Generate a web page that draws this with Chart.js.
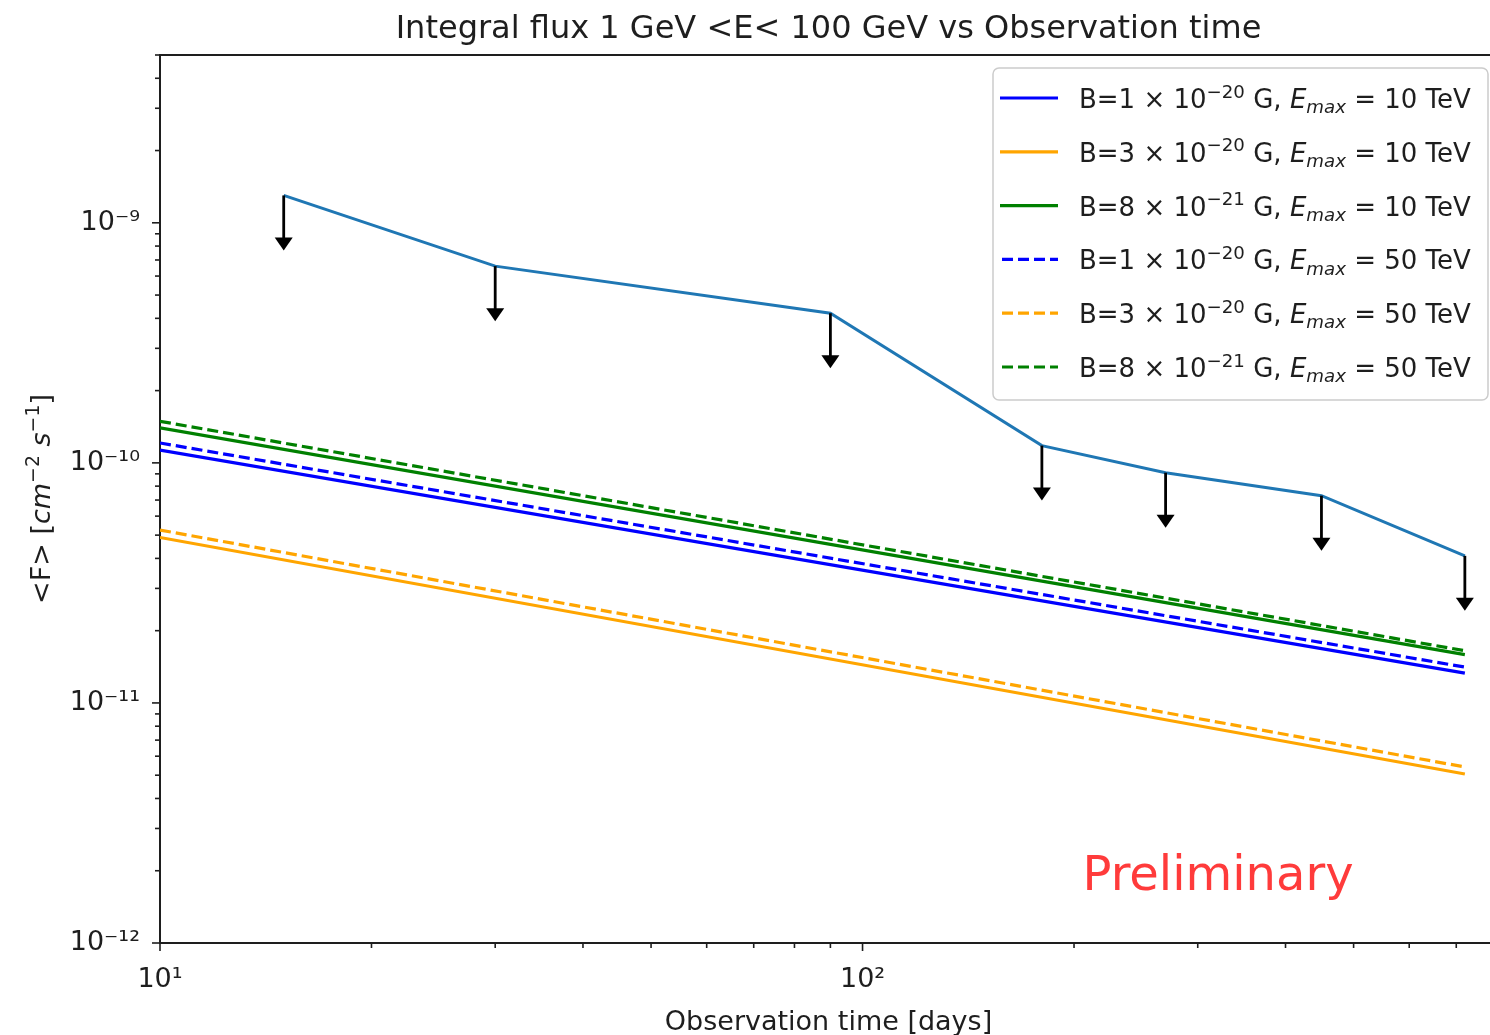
<!DOCTYPE html>
<html lang="en">
<head>
<meta charset="UTF-8">
<title>Integral flux vs observation time</title>
<script src="https://cdn.jsdelivr.net/npm/chart.js@4.4.1/dist/chart.umd.min.js"></script>
<style>
  html, body { margin: 0; padding: 0; background: #fff; overflow: hidden; }
  canvas { display: block; }
</style>
</head>
<body>
<canvas id="flux" width="1497" height="1035"></canvas>
<script>
// observation windows (days) and flux upper limits
var days = [15, 30, 90, 180, 270, 450, 720];
var fluxUL = [1.3e-9, 6.6e-10, 4.2e-10, 1.18e-10, 9.1e-11, 7.3e-11, 4.1e-11];

// model curves, read at both ends (10 and 720 days)
var modelDays = [10, 720];
var b1e20_10 = [1.13e-10, 1.33e-11];
var b3e20_10 = [4.89e-11, 5.06e-12];
var b8e21_10 = [1.40e-10, 1.59e-11];
var b1e20_50 = [1.21e-10, 1.41e-11];
var b3e20_50 = [5.25e-11, 5.41e-12];
var b8e21_50 = [1.49e-10, 1.65e-11];

var bField = ['1', '3', '8', '1', '3', '8'];
var bExp = ['−20', '−20', '−21', '−20', '−20', '−21'];
var eMax = ['10', '10', '10', '50', '50', '50'];
var modelColors = ['#0000ff', '#ffa500', '#008000', '#0000ff', '#ffa500', '#008000'];

var xTicks = [10, 100];
var yTicks = [1e-12, 1e-11, 1e-10, 1e-9];

var FONT = '"DejaVu Sans", sans-serif';
var INK = '#1e1e1e';

function pts(xs, ys) {
  return xs.map(function (x, i) { return { x: x, y: ys[i] }; });
}

function sup(s) {
  var m = { '-': '⁻', '0': '⁰', '1': '¹', '2': '²', '3': '³', '4': '⁴', '5': '⁵', '6': '⁶', '7': '⁷', '8': '⁸', '9': '⁹' };
  return s.split('').map(function (c) { return m[c]; }).join('');
}
function powLabel(v) {
  return '10' + sup(String(Math.round(Math.log10(v))));
}

// draw text made of pieces (normal / italic / super / sub)
function drawRich(ctx, parts, x, y, size, measureOnly) {
  var x0 = x;
  parts.forEach(function (p) {
    var s = (p.sup || p.sub) ? size * 0.7 : size;
    ctx.font = (p.it ? 'italic ' : '') + s + 'px ' + FONT;
    var dy = p.sup ? -size * 0.4 : (p.sub ? size * 0.2 : 0);
    if (!measureOnly) ctx.fillText(p.t, x, y + dy);
    x += ctx.measureText(p.t).width;
  });
  return x - x0;
}

var modelSets = [b1e20_10, b3e20_10, b8e21_10, b1e20_50, b3e20_50, b8e21_50];
var datasets = [{
  data: pts(days, fluxUL),
  borderColor: '#1f77b4',
  borderWidth: 3,
  pointRadius: 0
}];
modelSets.forEach(function (ys, i) {
  datasets.push({
    data: pts(modelDays, ys),
    borderColor: modelColors[i],
    borderWidth: 3.2,
    borderDash: i >= 3 ? [11, 5] : [],
    pointRadius: 0
  });
});

var decor = {
  id: 'decor',
  afterDatasetsDraw: function (chart) {
    var ctx = chart.ctx, xs = chart.scales.x, ys = chart.scales.y;
    // upper limit arrows
    ctx.save();
    ctx.fillStyle = '#000';
    ctx.strokeStyle = '#000';
    ctx.lineWidth = 2.8;
    days.forEach(function (d, i) {
      var px = xs.getPixelForValue(d);
      var y0 = ys.getPixelForValue(fluxUL[i]);
      var tip = ys.getPixelForValue(fluxUL[i] * 0.59);
      ctx.beginPath();
      ctx.moveTo(px, y0);
      ctx.lineTo(px, tip - 10);
      ctx.stroke();
      ctx.beginPath();
      ctx.moveTo(px - 9, tip - 13);
      ctx.lineTo(px + 9, tip - 13);
      ctx.lineTo(px, tip);
      ctx.closePath();
      ctx.fill();
    });
    ctx.restore();
  },
  afterDraw: function (chart) {
    var ctx = chart.ctx, a = chart.chartArea, xs = chart.scales.x, ys = chart.scales.y;
    ctx.save();

    // top spine
    ctx.strokeStyle = INK;
    ctx.lineWidth = 2;
    ctx.beginPath();
    ctx.moveTo(a.left - 1, a.top);
    ctx.lineTo(a.right, a.top);
    ctx.stroke();

    // tick marks, major and minor
    ctx.lineWidth = 1.6;
    for (var e = 1; e < 3; e++) {
      for (var k = 1; k < 10; k++) {
        var v = k * Math.pow(10, e);
        if (v < xs.min || v > xs.max) continue;
        var px = xs.getPixelForValue(v);
        ctx.beginPath();
        ctx.moveTo(px, a.bottom);
        ctx.lineTo(px, a.bottom + (k === 1 ? 8 : 5));
        ctx.stroke();
      }
    }
    for (var e2 = -12; e2 < -8; e2++) {
      for (var k2 = 1; k2 < 10; k2++) {
        var v2 = k2 * Math.pow(10, e2);
        if (v2 < ys.min || v2 > ys.max) continue;
        var py = ys.getPixelForValue(v2);
        ctx.beginPath();
        ctx.moveTo(a.left, py);
        ctx.lineTo(a.left - (k2 === 1 ? 8 : 5), py);
        ctx.stroke();
      }
    }

    ctx.fillStyle = INK;
    ctx.textBaseline = 'alphabetic';
    var cx = (a.left + a.right) / 2;

    // title
    ctx.font = '32px ' + FONT;
    ctx.textAlign = 'center';
    ctx.fillText('Integral flux 1 GeV <E< 100 GeV vs Observation time', cx, 38);

    // x label
    ctx.font = '27px ' + FONT;
    ctx.fillText('Observation time [days]', cx, 1030);

    // y label
    ctx.textAlign = 'left';
    var yl = [{ t: '<F> [' }, { t: 'cm', it: 1 }, { t: '−2', sup: 1 }, { t: ' ' },
              { t: 's', it: 1 }, { t: '−1', sup: 1 }, { t: ']' }];
    ctx.save();
    ctx.translate(50, (a.top + a.bottom) / 2);
    ctx.rotate(-Math.PI / 2);
    var w = drawRich(ctx, yl, 0, 0, 27, true);
    drawRich(ctx, yl, -w / 2, 0, 27);
    ctx.restore();

    // legend
    var bx = a.right - 504, by = a.top + 13, bw = 495, bh = 332;
    ctx.fillStyle = 'rgba(255,255,255,0.8)';
    ctx.strokeStyle = '#cccccc';
    ctx.lineWidth = 1.5;
    ctx.beginPath();
    ctx.roundRect(bx, by, bw, bh, 6);
    ctx.fill();
    ctx.stroke();
    for (var i = 0; i < 6; i++) {
      var ry = by + 30 + i * 53.8;
      ctx.strokeStyle = modelColors[i];
      ctx.lineWidth = 3.2;
      ctx.setLineDash(i >= 3 ? [11, 5] : []);
      ctx.beginPath();
      ctx.moveTo(bx + (i >= 3 ? 9 : 7), ry);
      ctx.lineTo(bx + 65, ry);
      ctx.stroke();
      ctx.setLineDash([]);
      ctx.fillStyle = INK;
      drawRich(ctx, [
        { t: 'B=' + bField[i] + ' × 10' }, { t: bExp[i], sup: 1 }, { t: ' G, ' },
        { t: 'E', it: 1 }, { t: 'max', it: 1, sub: 1 }, { t: ' = ' + eMax[i] + ' TeV' }
      ], bx + 86, ry + 10, 26);
    }

    // watermark
    ctx.fillStyle = '#ff3b3b';
    ctx.font = '48px ' + FONT;
    ctx.fillText('Preliminary', a.left + 0.69 * (a.right - a.left), a.top + 0.94 * (a.bottom - a.top));

    ctx.restore();
  }
};

new Chart(document.getElementById('flux'), {
  type: 'line',
  data: { datasets: datasets },
  options: {
    responsive: false,
    animation: false,
    layout: { padding: { top: 55, left: 0, right: 0, bottom: 0 } },
    plugins: { legend: { display: false }, tooltip: { enabled: false }, title: { display: false } },
    scales: {
      x: {
        type: 'logarithmic',
        position: 'bottom',
        min: 10,
        max: 800,
        grid: { display: false, drawTicks: false },
        border: { display: true, color: INK, width: 2 },
        ticks: {
          autoSkip: false, maxRotation: 0, padding: 21, color: INK,
          font: { family: FONT, size: 27 },
          callback: function (v) { return powLabel(v); }
        },
        afterBuildTicks: function (s) { s.ticks = xTicks.map(function (v) { return { value: v }; }); },
        afterFit: function (s) { s.height = 92; }
      },
      y: {
        type: 'logarithmic',
        position: 'left',
        min: 1e-12,
        max: 5e-9,
        grid: { display: false, drawTicks: false },
        border: { display: true, color: INK, width: 2 },
        ticks: {
          autoSkip: false, padding: 20, color: INK,
          font: { family: FONT, size: 27 },
          callback: function (v) { return powLabel(v); }
        },
        afterBuildTicks: function (s) { s.ticks = yTicks.map(function (v) { return { value: v }; }); },
        afterFit: function (s) { s.width = 160; }
      }
    }
  },
  plugins: [decor]
});
</script>
</body>
</html>
